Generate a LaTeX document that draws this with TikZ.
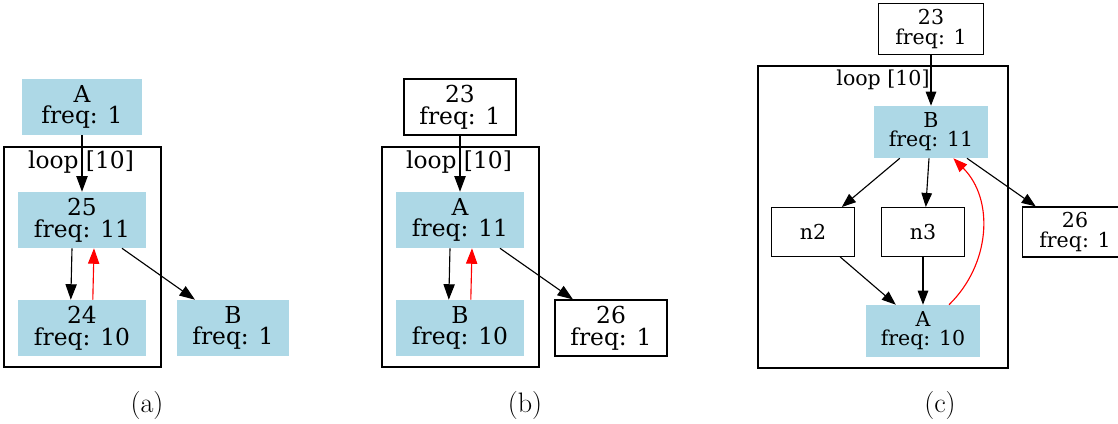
\documentclass[tikz,border=0pt]{standalone}
\usepackage{fontspec}
\newfontfamily\gvfont{DejaVu Serif}
\usetikzlibrary{arrows.meta}
\definecolor{gvblue}{HTML}{ADD8E6}

\tikzset{
  box/.style={inner sep=0pt, align=center, font=\gvfont\fontsize{16.6}{15.4}\selectfont},
  hot/.style={box, fill=gvblue},
  cold/.style={box, draw, line width=0.8pt},
  smaller/.style={font=\gvfont\fontsize{14.6}{13.6}\selectfont},
  edge/.style={-{Triangle[length=11pt,width=8pt]}, line width=0.8pt},
  cedge/.style={-{Triangle[length=10pt,width=7.5pt]}, line width=0.8pt},
  cluster/.style={draw, line width=0.8pt},
  loopname/.style={font=\gvfont\fontsize{16.6}{16.6}\selectfont},
  subcap/.style={font=\fontsize{20}{24}\selectfont}
}

\begin{document}
\begin{tikzpicture}[x=0.025cm, y=-0.025cm]
\clip (0,0) rectangle (1118,423);

% (a)
\draw[cluster] (4,147) rectangle (161,367);
\node[loopname] (a_loop) at (81,162) {loop [10]};
\node[hot, minimum width=3cm, minimum height=1.4cm] (a_A) at (82,107) {A\\freq: 1};
\node[hot, minimum width=3.2cm, minimum height=1.4cm] (a_25) at (82,220) {25\\freq: 11};
\node[hot, minimum width=3.2cm, minimum height=1.4cm] (a_24) at (82,328) {24\\freq: 10};
\node[hot, minimum width=2.8cm, minimum height=1.4cm] (a_B) at (233,328) {B\\freq: 1};
\draw[edge] (a_A) -- (a_25);
\draw[edge] ([xshift=-0.25cm]a_25.south) -- ([xshift=-0.28cm]a_24.north);
\draw[edge, red] ([xshift=0.27cm]a_24.north) -- ([xshift=0.3cm]a_25.south);
\draw[edge] ([xshift=1cm]a_25.south) -- ([xshift=-0.95cm]a_B.north);
\node[subcap] (a_cap) at (147,405) {(a)};

% (b)
\draw[cluster] (382,147) rectangle (539,367);
\node[loopname] (b_loop) at (459,162) {loop [10]};
\node[cold, minimum width=2.8cm, minimum height=1.4cm] (b_23) at (460,107) {23\\freq: 1};
\node[hot, minimum width=3.2cm, minimum height=1.4cm] (b_A) at (460,220) {A\\freq: 11};
\node[hot, minimum width=3.2cm, minimum height=1.4cm] (b_B) at (460,328) {B\\freq: 10};
\node[cold, minimum width=2.8cm, minimum height=1.4cm] (b_26) at (611,328) {26\\freq: 1};
\draw[edge] (b_23) -- (b_A);
\draw[edge] ([xshift=-0.25cm]b_A.south) -- ([xshift=-0.28cm]b_B.north);
\draw[edge, red] ([xshift=0.27cm]b_B.north) -- ([xshift=0.3cm]b_A.south);
\draw[edge] ([xshift=1cm]b_A.south) -- ([xshift=-0.95cm]b_26.north);
\node[subcap] (b_cap) at (525,405) {(b)};

% (c)
\draw[cluster] (758,66) rectangle (1008,368);
\node[loopname, smaller] (c_loop) at (883,80) {loop [10]};
\node[cold, smaller, minimum width=2.62cm, minimum height=1.27cm] (c_23) at (931,29) {23\\freq: 1};
\node[hot, smaller, minimum width=2.83cm, minimum height=1.3cm] (c_B) at (931,132) {B\\freq: 11};
\node[cold, smaller, minimum width=2.08cm, minimum height=1.22cm] (c_n2) at (813,232) {n2};
\node[cold, smaller, minimum width=2.08cm, minimum height=1.22cm] (c_n3) at (923,232) {n3};
\node[cold, smaller, minimum width=2.62cm, minimum height=1.25cm] (c_26) at (1075,232) {26\\freq: 1};
\node[hot, smaller, minimum width=2.83cm, minimum height=1.3cm] (c_A) at (923,331) {A\\freq: 10};
\draw[cedge] (c_23) -- (c_B);
\draw[cedge] ([xshift=-0.78cm]c_B.south) -- ([xshift=0.72cm]c_n2.north);
\draw[cedge] ([xshift=-0.05cm]c_B.south) -- ([xshift=0.07cm]c_n3.north);
\draw[cedge] ([xshift=0.9cm]c_B.south) -- ([xshift=-0.98cm]c_26.north);
\draw[cedge] ([xshift=0.68cm]c_n2.south) -- ([xshift=-0.68cm]c_A.north);
\draw[cedge] (c_n3) -- (c_A);
\draw[cedge, red] ([xshift=0.65cm]c_A.north) .. controls (990,265) and (995,200) .. ([xshift=0.56cm]c_B.south);
\node[subcap] (c_cap) at (940,405) {(c)};
\end{tikzpicture}
\end{document}
